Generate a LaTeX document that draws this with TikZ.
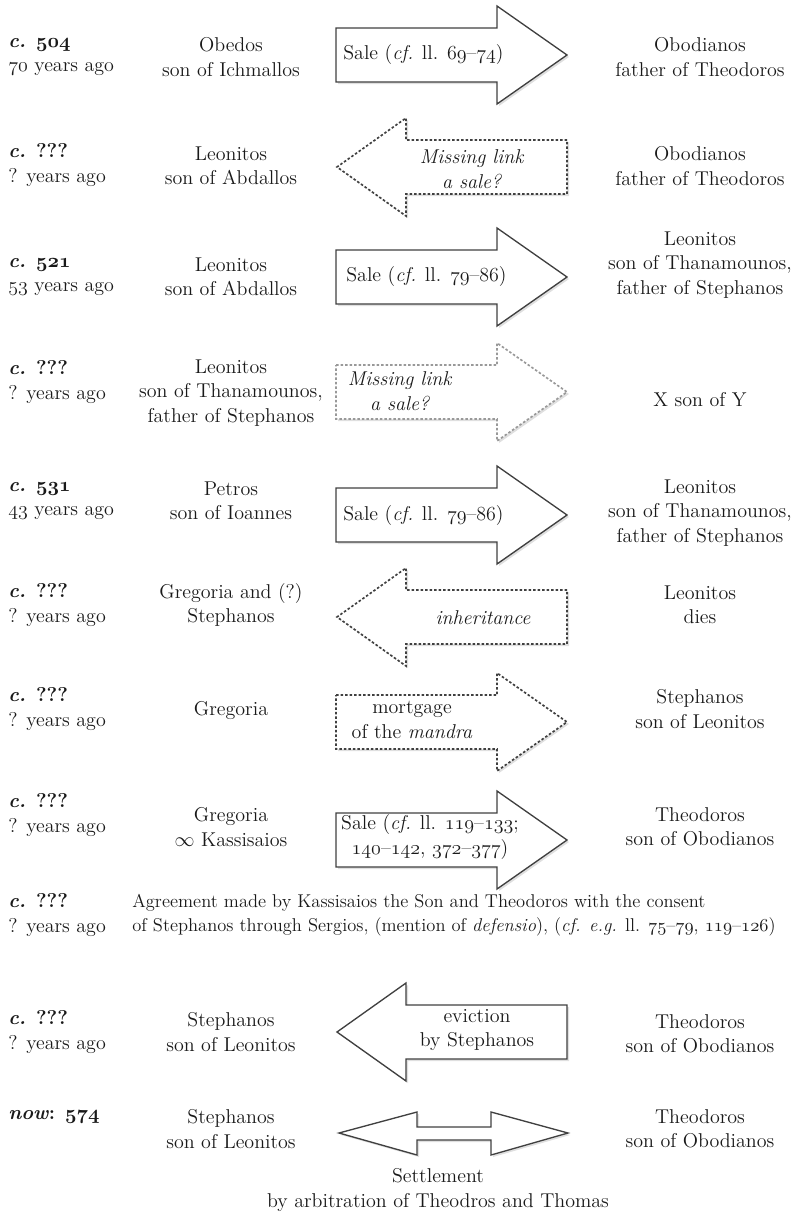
\documentclass[tikz,border=0pt]{standalone}
\usetikzlibrary{shadows}
\newcommand{\osn}[1]{{\usefont{OML}{cmm}{m}{it}#1}}
\newcommand{\osb}[1]{{\usefont{OML}{cmm}{b}{it}#1}}
\tikzset{
  every node/.style={font=\fontsize{12}{14.7}\selectfont, text=black!90, align=center, inner sep=0pt},
  datetext/.style={anchor=west, align=left},
  solidarrow/.style={draw=black!75, line width=0.8pt, fill=white, drop shadow={opacity=0.25, shadow xshift=1.2pt, shadow yshift=-1.2pt}},
  dotarrow/.style={solidarrow, dash pattern=on 1.5pt off 1.2pt, line width=1pt},
  faintarrow/.style={dotarrow, draw=black!40},
}
\begin{document}
\begin{tikzpicture}[x=0.6pt, y=-0.6pt]
  \newcommand{\rightblock}[2]{\draw[#1] (336,#2-27) -- (497,#2-27) -- (497,#2-49) -- (567,#2) -- (497,#2+49) -- (497,#2+27) -- (336,#2+27) -- cycle;}
  \newcommand{\leftblock}[2]{\draw[#1] (567,#2-27) -- (406,#2-27) -- (406,#2-49) -- (337,#2) -- (406,#2+49) -- (406,#2+27) -- (567,#2+27) -- cycle;}
  \useasboundingbox (0,0) rectangle (799,1214);

  % c. 504
  \node[datetext] (d1) at (8,57) {\textbf{\textit{c.} \osb{504}}\\\osn{70} years ago};
  \node (a1) at (231,57) {Obedos\\son of Ichmallos};
  \node (b1) at (700,57) {Obodianos\\father of Theodoros};
  \rightblock{solidarrow}{55}
  \node[anchor=west] (s1) at (343,55) {Sale (\textit{cf.} ll. \osn{69}--\osn{74})};

  % missing link
  \node[datetext] (d2) at (8,165) {\textbf{\textit{c.} ???}\\? years ago};
  \node (a2) at (231,166) {Leonitos\\son of Abdallos};
  \node (b2) at (700,166) {Obodianos\\father of Theodoros};
  \leftblock{dotarrow}{167}
  \node (s2) at (472,169) {\textit{Missing link}\\\textit{a sale?}};

  % c. 521
  \node[datetext] (d3) at (8,277) {\textbf{\textit{c.} \osb{521}}\\\osn{53} years ago};
  \node (a3) at (231,277) {Leonitos\\son of Abdallos};
  \node (b3) at (700,265) {Leonitos\\son of Thanamounos,\\father of Stephanos};
  \rightblock{solidarrow}{277}
  \node[anchor=west] (s3) at (346,277) {Sale (\textit{cf.} ll. \osn{79}--\osn{86})};

  % missing link
  \node[datetext] (d4) at (8,382) {\textbf{\textit{c.} ???}\\? years ago};
  \node (a4) at (231,393) {Leonitos\\son of Thanamounos,\\father of Stephanos};
  \node (b4) at (700,400) {X son of Y};
  \rightblock{faintarrow}{392}
  \node (s4) at (400,391) {\textit{Missing link}\\\textit{a sale?}};

  % c. 531
  \node[datetext] (d5) at (8,501) {\textbf{\textit{c.} \osb{531}}\\\osn{43} years ago};
  \node (a5) at (231,501) {Petros\\son of Ioannes};
  \node (b5) at (700,513) {Leonitos\\son of Thanamounos,\\father of Stephanos};
  \rightblock{solidarrow}{515}
  \node[anchor=west] (s5) at (343,515) {Sale (\textit{cf.} ll. \osn{79}--\osn{86})};

  % inheritance
  \node[datetext] (d6) at (8,605) {\textbf{\textit{c.} ???}\\? years ago};
  \node (a6) at (231,605) {Gregoria and (?)\\Stephanos};
  \node (b6) at (700,605) {Leonitos\\dies};
  \leftblock{dotarrow}{617}
  \node (s6) at (483,618) {\textit{inheritance}};

  % mortgage
  \node[datetext] (d7) at (8,709) {\textbf{\textit{c.} ???}\\? years ago};
  \node (a7) at (231,710) {Gregoria};
  \node (b7) at (700,709) {Stephanos\\son of Leonitos};
  \rightblock{dotarrow}{722}
  \node (s7) at (412,720) {mortgage\\of the \textit{mandra}};

  % sale to Theodoros
  \node[datetext] (d8) at (8,815) {\textbf{\textit{c.} ???}\\? years ago};
  \node (a8) at (231,827) {Gregoria\\$\infty$ Kassisaios};
  \node (b8) at (700,827) {Theodoros\\son of Obodianos};
  \rightblock{solidarrow}{840}
  \node (s8) at (430,837) {Sale (\textit{cf.} ll. \osn{119}--\osn{133};\\\osn{140}--\osn{142}, \osn{372}--\osn{377})};

  % agreement
  \node[datetext] (d9) at (8,915) {\textbf{\textit{c.} ???}\\? years ago};
  \node[datetext, font=\fontsize{11.1}{14.7}\selectfont] (g9) at (132,915) {Agreement made by Kassisaios the Son and Theodoros with the consent\\of Stephanos through Sergios, (mention of \textit{defensio}), (\textit{cf. e.g.} ll. \osn{75}--\osn{79}, \osn{119}--\osn{126})};

  % eviction
  \node[datetext] (d10) at (8,1032) {\textbf{\textit{c.} ???}\\? years ago};
  \node (a10) at (231,1032) {Stephanos\\son of Leonitos};
  \node (b10) at (700,1034) {Theodoros\\son of Obodianos};
  \leftblock{solidarrow}{1032}
  \node (s10) at (477,1030) {eviction\\by Stephanos};

  % settlement
  \node[datetext] (d11) at (8,1117) {\textbf{\textit{now}: \osb{574}}};
  \node (a11) at (231,1129) {Stephanos\\son of Leonitos};
  \node (b11) at (700,1129) {Theodoros\\son of Obodianos};
  \draw[solidarrow] (339,1133) -- (417,1112) -- (417,1127) -- (491,1127) -- (491,1112) -- (568,1133)
    -- (491,1155) -- (491,1140) -- (417,1140) -- (417,1155) -- cycle;
  \node (s11) at (438,1190) {Settlement\\by arbitration of Theodros and Thomas};
\end{tikzpicture}
\end{document}
